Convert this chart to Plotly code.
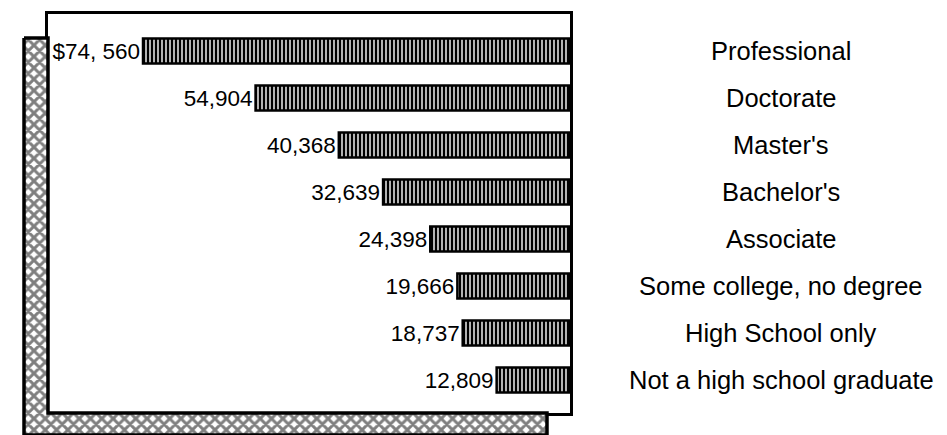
import plotly.graph_objects as go

categories = ["Professional", "Doctorate", "Master's", "Bachelor's", "Associate",
              "Some college, no degree", "High School only", "Not a high school graduate"]
earnings = [74560, 54904, 40368, 32639, 24398, 19666, 18737, 12809]
value_labels = ["$74, 560", "54,904", "40,368", "32,639", "24,398", "19,666", "18,737", "12,809"]

W, H = 947, 435
FONT = "Liberation Sans, Arial, Helvetica, sans-serif"

# plot-area frame in pixels
L, R, T, B = 48, 570, 14, 413

fig = go.Figure()

# drop-shadow decoration (pixel coordinates on an overlay axis)
sx = [24, L, L, 547, 547, 24, 24]
sy = [38, 38, B, B, 435, 435, 38]
fig.add_trace(go.Scatter(
    x=sx, y=sy, xaxis="x2", yaxis="y2", mode="lines", fill="toself",
    fillcolor="white",
    fillpattern=dict(shape="x", fgcolor="black", bgcolor="white", size=8, solidity=0.6),
    line=dict(color="black", width=3.5), hoverinfo="skip", showlegend=False,
))

fig.add_trace(go.Bar(
    x=earnings, y=categories, orientation="h",
    text=value_labels, textposition="outside",
    textfont=dict(family=FONT, size=23.5, color="black"),
    width=0.53,
    marker=dict(color="black",
                line=dict(color="black", width=2.5),
                pattern=dict(shape="|", fgcolor="white", fgopacity=1,
                             size=4, solidity=0.35, fillmode="overlay")),
    cliponaxis=False, hoverinfo="skip", showlegend=False,
))

xmax = 91150
fig.update_layout(
    width=W, height=H,
    margin=dict(l=0, r=0, t=0, b=0),
    paper_bgcolor="white", plot_bgcolor="rgba(0,0,0,0)",
    font=dict(family=FONT, color="black"),
    xaxis=dict(domain=[L / W, R / W], range=[xmax, 0], visible=True,
               showgrid=False, zeroline=False, showticklabels=False, ticks="",
               showline=True, mirror=True, linecolor="black", linewidth=2.5),
    yaxis=dict(domain=[1 - B / H, 1 - T / H], type="category",
               categoryorder="array", categoryarray=categories,
               range=[7.702, -0.787], showgrid=False, zeroline=False,
               showticklabels=False, ticks="",
               showline=True, mirror=True, linecolor="black", linewidth=2.5),
    xaxis2=dict(domain=[0, 1], range=[0, W], visible=False, anchor="y2"),
    yaxis2=dict(domain=[0, 1], range=[H, 0], visible=False, anchor="x2"),
)

for cat in categories:
    fig.add_annotation(
        x=781 / W, xref="paper", y=cat, yref="y",
        text=cat, showarrow=False, xanchor="center", yanchor="middle",
        font=dict(family=FONT, size=25.5, color="black"),
    )

fig.write_html("out.html")
